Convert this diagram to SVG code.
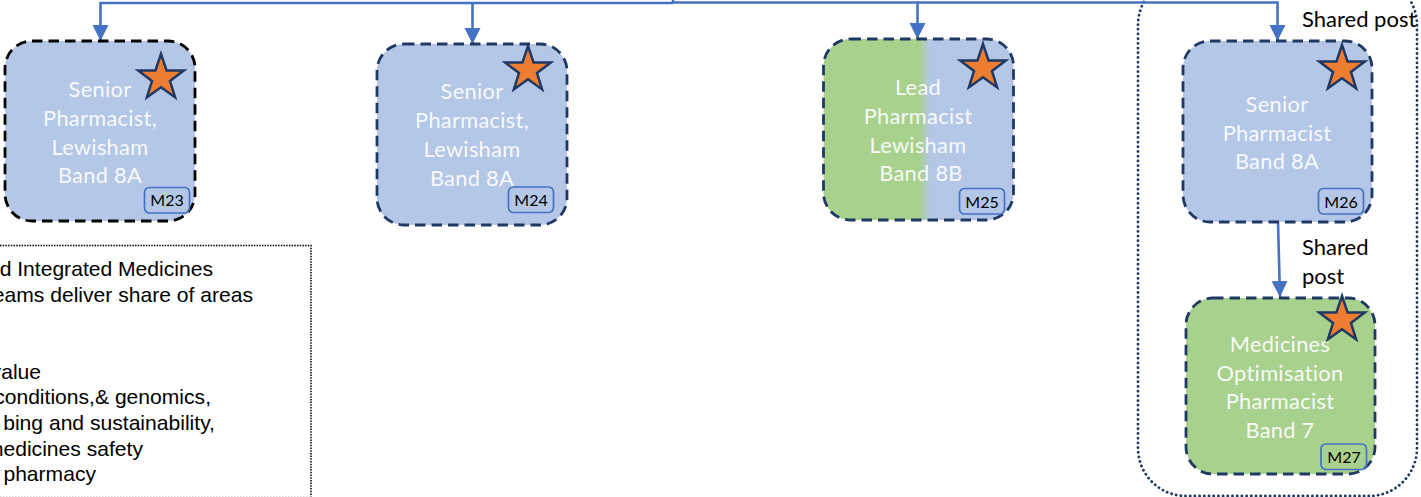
<svg xmlns="http://www.w3.org/2000/svg" width="1421" height="497" viewBox="0 0 1421 497">
<style>
.box{stroke:#1F3864;stroke-width:2.8;stroke-dasharray:10.500 6}
.blue{fill:#B4C7E7}.green{fill:#A9D18E}
.t{font-family:Lato,"Open Sans",sans-serif;font-size:21.8px;letter-spacing:.3px;fill:#fff;text-anchor:middle;fill-opacity:.93}
.star{fill:#ED7D31;stroke:#1F3864;stroke-width:2.5}
.badge{fill:none;stroke:#4472C4;stroke-width:1.7}
.bt{font-family:Lato,"Open Sans",sans-serif;font-size:16px;fill:#000;text-anchor:middle}
.lab{font-family:Lato,"Open Sans",sans-serif;font-size:22px;fill:#000}
.leg{font-family:"Liberation Sans",Arial,sans-serif;font-size:20px;fill:#000;text-anchor:end}
.c{fill:none;stroke:#4472C4;stroke-width:2.6}
</style>
<defs>
<marker id="arrow" markerUnits="userSpaceOnUse" markerWidth="17" markerHeight="17" refX="16" refY="8.5" orient="auto"><path d="M0 0.500L16 8.500L0 16.500Z" fill="#4472C4"/></marker>
<linearGradient id="split" x1="0" x2="1" y1="0" y2="0"><stop offset="0.505" stop-color="#A9D18E"/><stop offset="0.56" stop-color="#B4C7E7"/></linearGradient>
<polygon id="star" points="0,-24 5.6,-7.4 22.8,-7.4 9,3 14.1,19.4 0,9.2 -14.1,19.4 -9,3 -22.8,-7.4 -5.6,-7.4"/>
</defs>
<g id="legend">
<path d="M0 245.500H311V496.500" fill="none" stroke="#000" stroke-width="1.5" stroke-dasharray="1.500 1.200"/>
<path d="M0 496.500H311" fill="none" stroke="#d9d9d9" stroke-width="1" stroke-dasharray="1.500 1.500"/>
<g transform="scale(1.055 1)">
<text class="leg" x="201.900" y="275.700">d Integrated Medicines</text>
<text class="leg" x="239.800" y="301.700">eams deliver share of areas</text>
<text class="leg" x="38.900" y="378.700">value</text>
<text class="leg" x="200" y="404.200">conditions,&amp; genomics,</text>
<text class="leg" x="203.800" y="429.700">bing and sustainability,</text>
<text class="leg" x="135.500" y="455.700">medicines safety</text>
<text class="leg" x="91" y="480.700">pharmacy</text>
</g>
</g>
<g id="shared-group"><rect x="1138" y="-23" width="279" height="519" rx="48" fill="none" stroke="#1F3864" stroke-width="2.8" stroke-dasharray="0.1 4.6" stroke-linecap="round"/></g>
<g id="connectors">
<path class="c" d="M673 3H100.500V41" marker-end="url(#arrow)"/>
<path class="c" d="M472.500 4V44" marker-end="url(#arrow)"/>
<path class="c" d="M673 0V2.500H917.500V39" marker-end="url(#arrow)"/>
<path class="c" d="M917 2.500H1277.500V41" marker-end="url(#arrow)"/>
<path class="c" d="M1278 222L1280 297" marker-end="url(#arrow)"/>
</g>
<g id="m23">
<rect class="blue" x="5" y="41" width="190" height="180" rx="27" style="stroke:#000;stroke-width:2.8;stroke-dasharray:10.500 6"/>
<text class="t" x="100" y="96.500">Senior</text><text class="t" x="100" y="125.500">Pharmacist,</text><text class="t" x="100" y="154.500">Lewisham</text><text class="t" x="100" y="182.500">Band 8A</text>
<use href="#star" class="star" x="161" y="78"/>
<rect class="badge" x="144.500" y="187.500" width="45" height="25.500" rx="5"/><text class="bt" x="167" y="206">M23</text>
</g>
<g id="m24">
<rect class="box blue" x="377" y="44" width="190" height="181" rx="27"/>
<text class="t" x="472" y="98.500">Senior</text><text class="t" x="472" y="127.500">Pharmacist,</text><text class="t" x="472" y="156.500">Lewisham</text><text class="t" x="472" y="185.500">Band 8A</text>
<use href="#star" class="star" x="528" y="70"/>
<rect class="badge" x="508.500" y="187" width="45" height="25.500" rx="5"/><text class="bt" x="531" y="206">M24</text>
</g>
<g id="m25">
<rect class="box" x="823.500" y="39" width="190" height="181" rx="27" fill="url(#split)"/>
<text class="t" x="918" y="94.500">Lead</text><text class="t" x="918" y="123.500">Pharmacist</text><text class="t" x="918" y="152.500">Lewisham</text><text class="t" x="921" y="180.500">Band 8B</text>
<use href="#star" class="star" x="983" y="68"/>
<rect class="badge" x="959.500" y="188.500" width="45" height="25.500" rx="5"/><text class="bt" x="982" y="208">M25</text>
</g>
<g id="m26">
<rect class="box blue" x="1183" y="41" width="189" height="181" rx="27"/>
<text class="t" x="1277" y="111.500">Senior</text><text class="t" x="1277" y="140.500">Pharmacist</text><text class="t" x="1277" y="168.500">Band 8A</text>
<use href="#star" class="star" x="1342" y="69"/>
<rect class="badge" x="1318.500" y="188.500" width="45" height="25.500" rx="5"/><text class="bt" x="1341" y="208">M26</text>
</g>
<g id="m27">
<rect class="box green" x="1186" y="298" width="189" height="176" rx="27"/>
<text class="t" x="1280" y="351.500">Medicines</text><text class="t" x="1280" y="380.500">Optimisation</text><text class="t" x="1280" y="408.500">Pharmacist</text><text class="t" x="1280" y="437.500">Band 7</text>
<use href="#star" class="star" x="1342" y="320"/>
<rect class="badge" x="1321" y="444" width="45.500" height="25.500" rx="5"/><text class="bt" x="1344" y="463">M27</text>
</g>
<g id="labels">
<text class="lab" x="1302" y="27">Shared post</text>
<text class="lab" x="1302" y="255">Shared</text>
<text class="lab" x="1302" y="284">post</text>
</g>
</svg>
